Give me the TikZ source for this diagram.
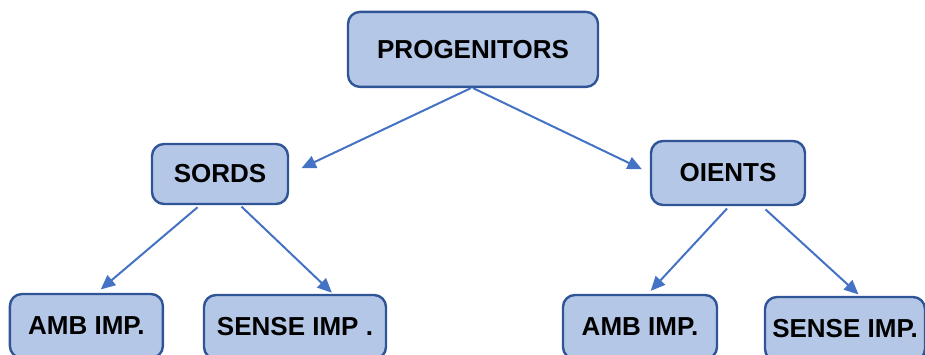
\documentclass[tikz,border=0pt]{standalone}
\usepackage{fontspec}
\setmainfont{Liberation Sans}
\usepackage{tikz}
\usetikzlibrary{arrows.meta, positioning, calc, shapes}

\definecolor{boxfill}{HTML}{B4C7E7}
\definecolor{boxline}{HTML}{2F5597}
\definecolor{arrline}{HTML}{4472C4}

\begin{document}
\begin{tikzpicture}[
  box/.style={draw=boxline, fill=boxfill, line width=0.6mm, rounded corners=3mm,
    minimum height=16mm, inner sep=0pt,
    font=\fontsize{18.5pt}{22pt}\selectfont\bfseries},
  arr/.style={draw=arrline, line width=0.5mm,
    -{Triangle[length=3.6mm,width=3.2mm]}}
]
\clip (0,0) rectangle (231.25mm,88.75mm);

\node[box, minimum width=62.5mm, minimum height=18.75mm] (P) at (118.25mm,76.4mm) {PROGENITORS};

\node[box, minimum width=34mm, minimum height=15mm] (S) at (55mm,45.25mm) {SORDS};
\node[box, minimum width=38.5mm] (O) at (182mm,45.5mm) {OIENTS};

\node[box, minimum width=38.25mm] (A1) at (21.6mm,7.25mm) {AMB IMP.};
\node[box, minimum width=45.5mm] (B1) at (73.75mm,7mm) {SENSE IMP .};
\node[box, minimum width=38.5mm] (A2) at (160mm,7mm) {AMB IMP.};
\node[box, minimum width=40mm] (B2) at (211.25mm,6.5mm) {SENSE IMP.};

\draw[arr, shorten >=3.4mm] ([xshift=-0.5mm]P.south) -- (S.east);
\draw[arr, shorten >=2.2mm] (P.south) -- (O.west);

\draw[arr, shorten <=0.8mm, shorten >=1.3mm] ([xshift=-5mm]S.south) -- ([xshift=2.6mm]A1.north);
\draw[arr, shorten <=0.5mm, shorten >=0.4mm] ([xshift=5mm]S.south) -- ([xshift=9.5mm]B1.north);
\draw[arr, shorten <=0.8mm, shorten >=1mm] ([xshift=0.3mm]O.south) -- ([xshift=2mm]A2.north);
\draw[arr, shorten <=1.2mm, shorten >=0.5mm] ([xshift=8.5mm]O.south) -- ([xshift=3.75mm]B2.north);

%\draw[step=5mm,color=gray] (0,0) grid (231.25mm,88.75mm);
\end{tikzpicture}
\end{document}
